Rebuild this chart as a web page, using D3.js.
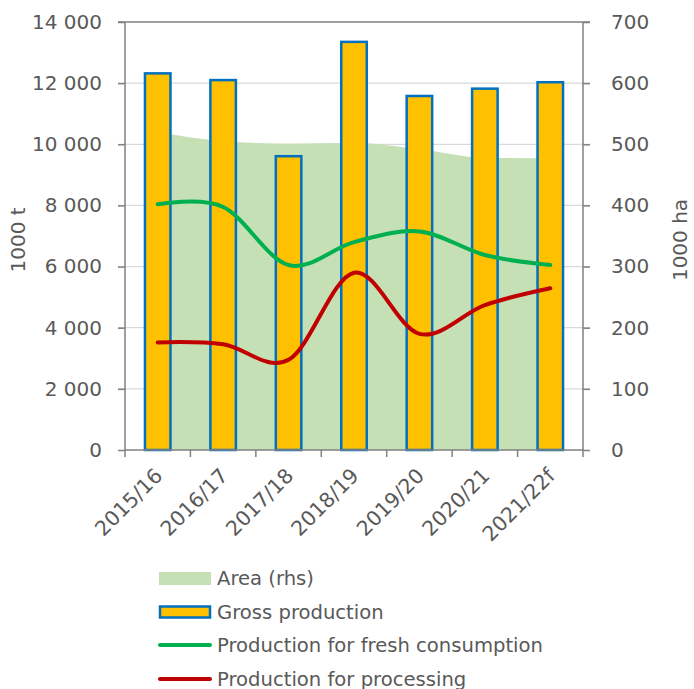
<!DOCTYPE html>
<html>
<head>
<meta charset="utf-8">
<script src="https://cdn.jsdelivr.net/npm/d3@7"></script>
<style>
  body { margin: 0; background: #fff; }
  svg text { font-family: "DejaVu Sans", sans-serif; fill: #595959; }
</style>
</head>
<body>
<div id="chart"></div>
<script>
// Data
var CATEGORIES = ["2015/16", "2016/17", "2017/18", "2018/19", "2019/20", "2020/21", "2021/22f"];
var GROSS = [12320, 12100, 9610, 13350, 11580, 11820, 12030];
var FRESH = [8040, 7950, 6050, 6800, 7150, 6380, 6050];
var PROCESSING = [3520, 3460, 2950, 5800, 3800, 4740, 5290];
var AREA = [520, 505, 501, 502, 492, 478, 477];
var TICKS_LEFT = [0, 2000, 4000, 6000, 8000, 10000, 12000, 14000];
var TICKS_RIGHT = [0, 100, 200, 300, 400, 500, 600, 700];

var COLORS = {
  bar: "#ffc000",
  barStroke: "#0070c0",
  area: "#c5e0b4",
  fresh: "#00b050",
  processing: "#c00000",
  axis: "#808080",
  grid: "#d9d9d9"
};

var width = 694;
var height = 689;
var margins = { top: 22, right: 111, bottom: 239, left: 125 };
var chartWidth = width - margins.left - margins.right;
var chartHeight = height - margins.top - margins.bottom;

var svg = d3.select("#chart")
  .append("svg")
  .attr("width", width)
  .attr("height", height);

var chart = svg.append("g")
  .attr("transform", "translate(" + margins.left + "," + margins.top + ")");

// Scales
var xScale = d3.scaleBand()
  .domain(CATEGORIES)
  .range([0, chartWidth]);

var yLeft = d3.scaleLinear().domain([0, 14000]).range([chartHeight, 0]);
var yRight = d3.scaleLinear().domain([0, 700]).range([chartHeight, 0]);

var bw = xScale.bandwidth();
var center = function(c) { return xScale(c) + bw / 2; };
var fmt = function(d) { return d3.format(",")(d).replace(/,/g, " "); };

// Grid lines
chart.append("g")
  .attr("class", "grid")
  .selectAll("line")
  .data(TICKS_LEFT.slice(1, -1))
  .enter()
  .append("line")
  .attr("x1", -7)
  .attr("x2", chartWidth + 7)
  .attr("y1", d => yLeft(d))
  .attr("y2", d => yLeft(d))
  .attr("stroke", COLORS.grid)
  .attr("stroke-width", 1.2);

// Area (rhs)
var areaGen = d3.area()
  .x((d, i) => center(CATEGORIES[i]))
  .y0(chartHeight)
  .y1(d => yRight(d))
  .curve(d3.curveMonotoneX);

chart.append("path")
  .datum(AREA)
  .attr("d", areaGen)
  .attr("fill", COLORS.area);

// Bars
var barWidth = bw * 0.39;
chart.append("g")
  .selectAll("rect")
  .data(GROSS)
  .enter()
  .append("rect")
  .attr("x", (d, i) => center(CATEGORIES[i]) - barWidth / 2)
  .attr("width", barWidth)
  .attr("y", d => yLeft(d))
  .attr("height", d => chartHeight - yLeft(d))
  .attr("fill", COLORS.bar)
  .attr("stroke", COLORS.barStroke)
  .attr("stroke-width", 2.5);

// Lines
var lineGen = d3.line()
  .x((d, i) => center(CATEGORIES[i]))
  .y(d => yLeft(d))
  .curve(d3.curveCardinal.tension(0));

[[FRESH, COLORS.fresh], [PROCESSING, COLORS.processing]].forEach(function(s) {
  chart.append("path")
    .datum(s[0])
    .attr("d", lineGen)
    .attr("fill", "none")
    .attr("stroke", s[1])
    .attr("stroke-width", 4)
    .attr("stroke-linecap", "round");
});

// Axes
var leftAxis = d3.axisLeft(yLeft).tickValues(TICKS_LEFT).tickSize(7).tickPadding(16).tickFormat(fmt);
var rightAxis = d3.axisRight(yRight).tickValues(TICKS_RIGHT).tickSize(7).tickPadding(21);

var styleAxis = function(g) {
  g.selectAll(".domain").remove();
  g.selectAll(".tick line").attr("stroke", COLORS.axis).attr("stroke-width", 1.5);
  g.selectAll(".tick text").attr("fill", "#595959").style("font-size", "20px")
    .style("font-family", "DejaVu Sans, sans-serif");
};

chart.append("g").call(leftAxis).call(styleAxis);
chart.append("g").attr("transform", "translate(" + chartWidth + ",0)").call(rightAxis).call(styleAxis);

// Axis frame lines
var frame = chart.append("g").attr("stroke", COLORS.axis).attr("stroke-width", 1.5);
frame.append("line").attr("x1", 0).attr("x2", 0).attr("y1", 0).attr("y2", chartHeight + 7);
frame.append("line").attr("x1", chartWidth).attr("x2", chartWidth).attr("y1", 0).attr("y2", chartHeight + 7);
frame.append("line").attr("x1", -7).attr("x2", chartWidth + 7).attr("y1", 0).attr("y2", 0);
frame.append("line").attr("x1", 0).attr("x2", chartWidth).attr("y1", chartHeight).attr("y2", chartHeight);

// Category boundary ticks
frame.selectAll(".xtick")
  .data(CATEGORIES.slice(1))
  .enter()
  .append("line")
  .attr("x1", d => xScale(d))
  .attr("x2", d => xScale(d))
  .attr("y1", chartHeight)
  .attr("y2", chartHeight + 7);

// Category labels
chart.append("g")
  .selectAll("text")
  .data(CATEGORIES)
  .enter()
  .append("text")
  .attr("transform", d => "translate(" + (center(d) + 1) + "," + (chartHeight + 22) + ") rotate(-45)")
  .attr("text-anchor", "end")
  .attr("dy", "0.35em")
  .style("font-size", "20.5px")
  .text(d => d);

// Axis titles
svg.append("text")
  .attr("transform", "translate(25,240) rotate(-90)")
  .attr("text-anchor", "middle")
  .style("font-size", "20px")
  .text("1000 t");

svg.append("text")
  .attr("transform", "translate(687,240) rotate(-90)")
  .attr("text-anchor", "middle")
  .style("font-size", "20px")
  .text("1000 ha");

// Legend
var legend = svg.append("g").attr("transform", "translate(159,0)");
var legendRows = [
  { label: "Area (rhs)", type: "area", y: 578.5 },
  { label: "Gross production", type: "bar", y: 612 },
  { label: "Production for fresh consumption", type: "fresh", y: 645 },
  { label: "Production for processing", type: "processing", y: 679 }
];

legendRows.forEach(function(r) {
  if (r.type === "area") {
    legend.append("rect").attr("x", 0).attr("y", r.y - 6.5).attr("width", 52).attr("height", 13)
      .attr("fill", COLORS.area);
  } else if (r.type === "bar") {
    legend.append("rect").attr("x", 1).attr("y", r.y - 5.5).attr("width", 50).attr("height", 11)
      .attr("fill", COLORS.bar).attr("stroke", COLORS.barStroke).attr("stroke-width", 2.5);
  } else {
    legend.append("line").attr("x1", 1).attr("x2", 51).attr("y1", r.y).attr("y2", r.y)
      .attr("stroke", COLORS[r.type]).attr("stroke-width", 4).attr("stroke-linecap", "round");
  }
  legend.append("text")
    .attr("x", 58)
    .attr("y", r.y)
    .attr("dy", "0.35em")
    .style("font-size", "19.6px")
    .text(r.label);
});
</script>
</body>
</html>
